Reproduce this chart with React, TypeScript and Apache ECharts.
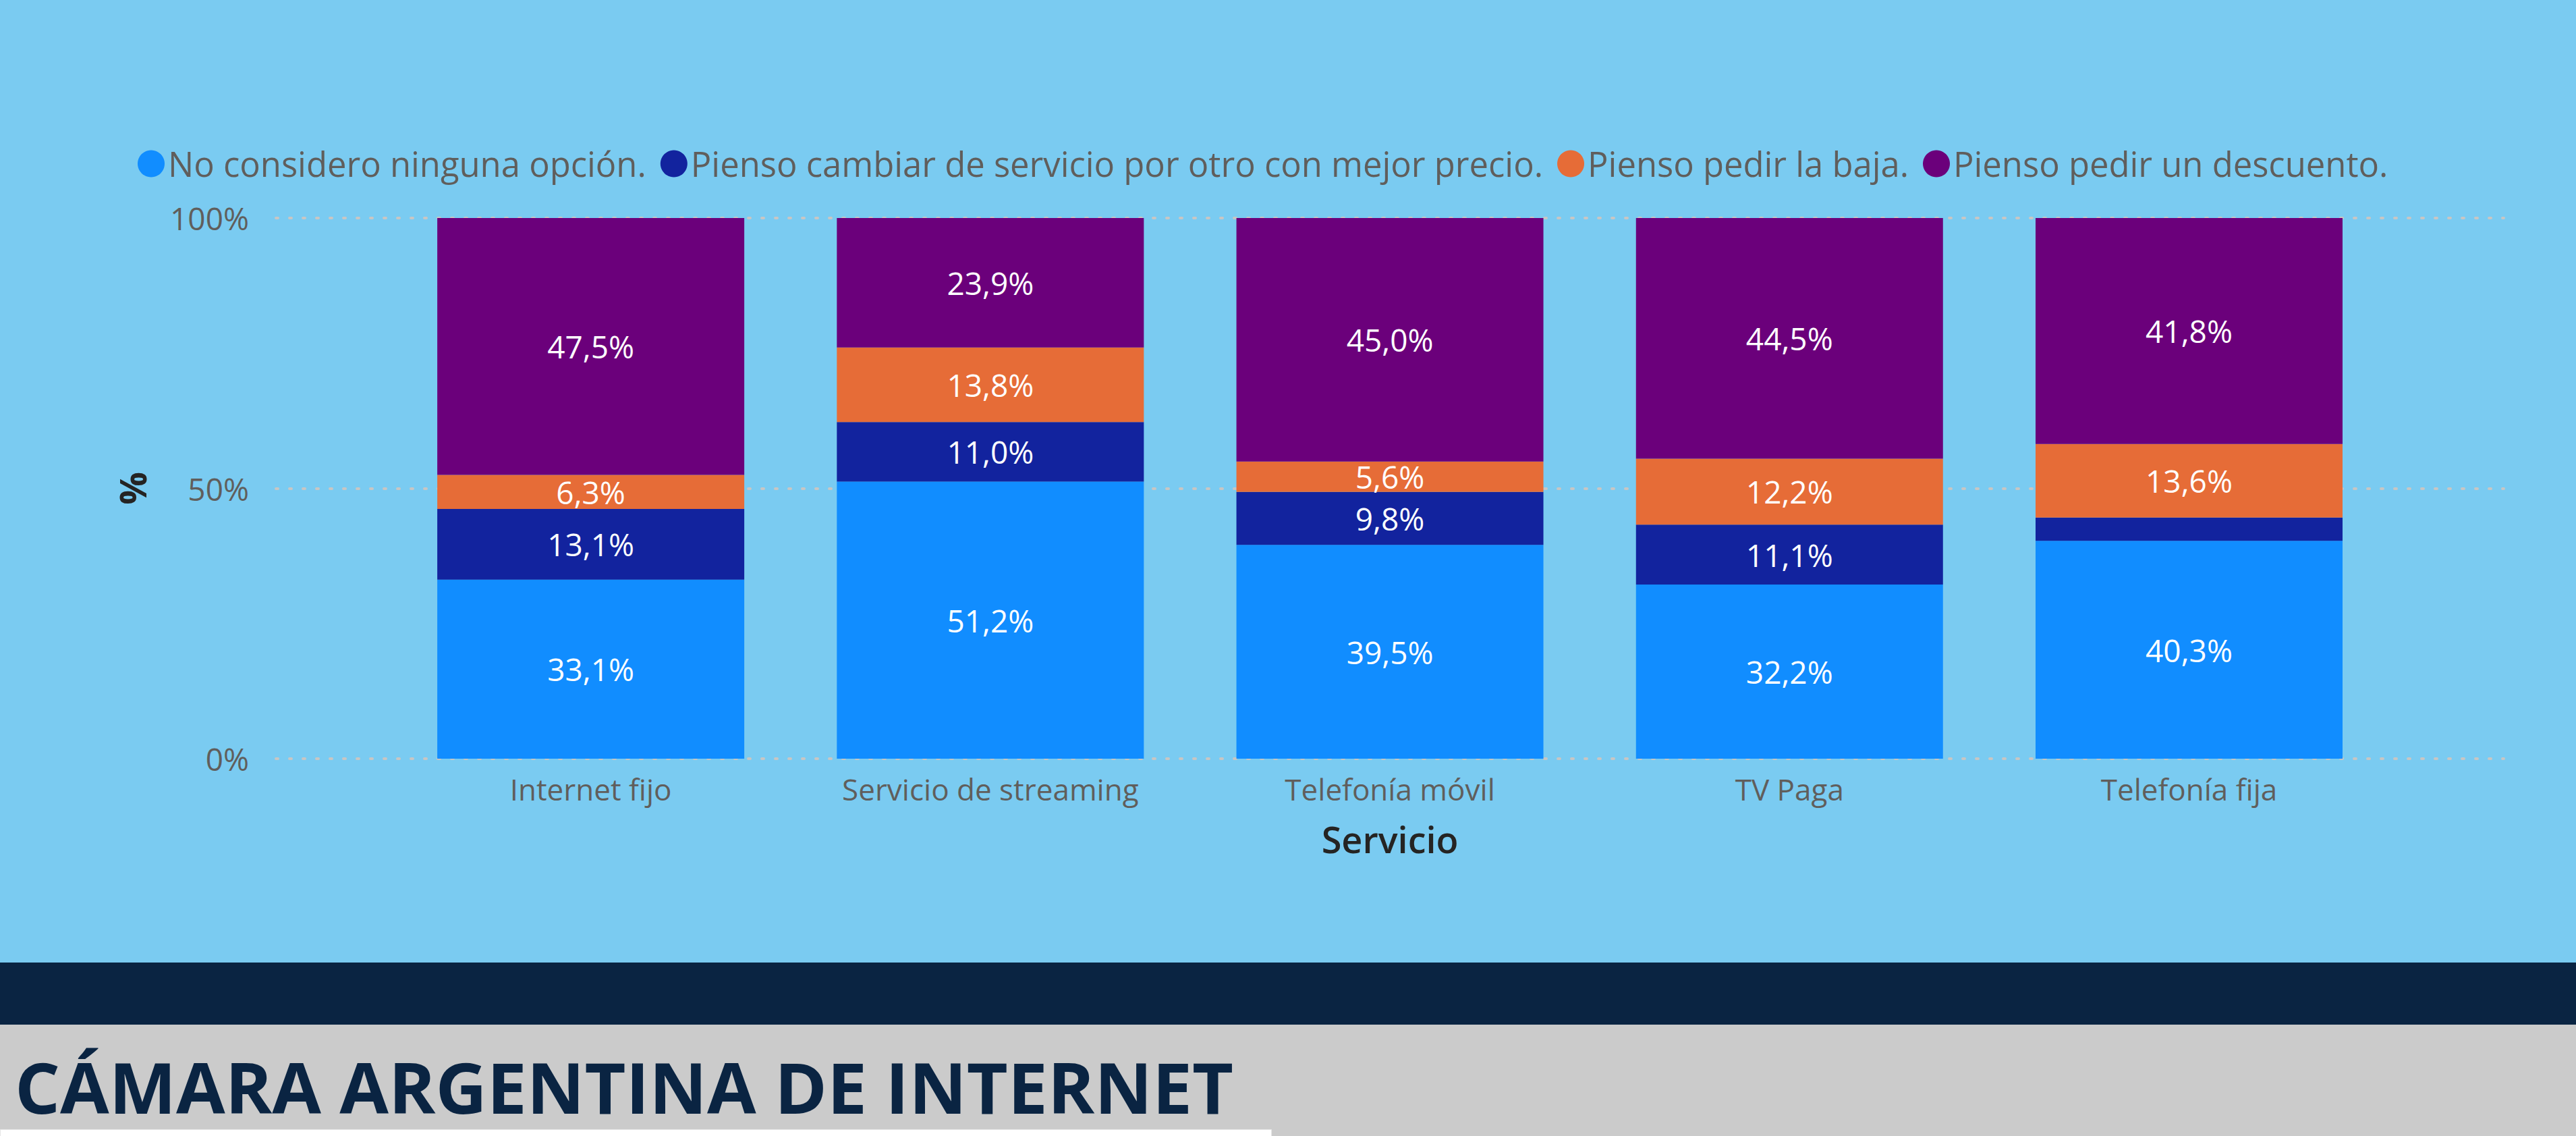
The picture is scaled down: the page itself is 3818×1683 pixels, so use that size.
import React, { useEffect, useRef } from "react";
import * as echarts from "echarts";

const categories = ["Internet fijo", "Servicio de streaming", "Telefonía móvil", "TV Paga", "Telefonía fija"];
const seriesNames = [
  "No considero ninguna opción.",
  "Pienso cambiar de servicio por otro con mejor precio.",
  "Pienso pedir la baja.",
  "Pienso pedir un descuento.",
];
const noConsidero = [33.1, 51.2, 39.5, 32.2, 40.3];
const cambiarServicio = [13.1, 11.0, 9.8, 11.1, 4.3];
const pedirBaja = [6.3, 13.8, 5.6, 12.2, 13.6];
const pedirDescuento = [47.5, 23.9, 45.0, 44.5, 41.8];
const yTicks = [0, 50, 100];
const seriesColors = ["#118DFF", "#12239E", "#E66C37", "#6B007B"];
const titleText = "CÁMARA ARGENTINA DE INTERNET";

const W = 3818;
const H = 1683;
const FONT = "'Open Sans', 'Noto Sans', sans-serif";

export default function App() {
  const ref = useRef<HTMLDivElement>(null);

  useEffect(() => {
    document.body.style.margin = "0";
    if (!ref.current) return;
    const chart = echarts.init(ref.current, null, { renderer: "svg", width: W, height: H });

    const raw = [noConsidero, cambiarServicio, pedirBaja, pedirDescuento];
    const totals = categories.map((_, i) => raw.reduce((s, arr) => s + arr[i], 0));

    // measure title to fit the reference width
    let titleScale = 1;
    try {
      const ctx = document.createElement("canvas").getContext("2d");
      if (ctx) {
        ctx.font = `bold 104px ${FONT}`;
        const w = ctx.measureText(titleText).width;
        if (w > 0) titleScale = 1806 / w;
      }
    } catch (e) {}

    const gridTop = 323;
    const gridBottom = H - 1124;

    const series = raw.map((arr, si) => ({
      name: seriesNames[si],
      type: "bar",
      stack: "total",
      xAxisIndex: 0,
      yAxisIndex: 0,
      barWidth: 455,
      z: 3,
      itemStyle: { color: seriesColors[si] },
      label: {
        show: true,
        position: "inside",
        color: "#FFFFFF",
        fontFamily: FONT,
        fontSize: 46,
        formatter: (p: any) => {
          const v = arr[p.dataIndex];
          return v < 5 ? "" : v.toFixed(1).replace(".", ",") + "%";
        },
      },
      data: arr.map((v, i) => (v / totals[i]) * 100),
    }));

    chart.setOption({
      animation: false,
      backgroundColor: "#7ACBF1",
      textStyle: { fontFamily: FONT },
      legend: {
        data: seriesNames,
        left: 199,
        top: 212,
        icon: "circle",
        itemWidth: 40,
        itemHeight: 40,
        itemGap: 21,
        selectedMode: false,
        textStyle: { color: "#605E5C", fontSize: 50.75, fontFamily: FONT, lineHeight: 40 },
      },
      grid: [
        { left: 579.5, right: W - 3540.6, top: gridTop, bottom: gridBottom, containLabel: false },
        { left: 409, right: W - 3711, top: gridTop, bottom: gridBottom, containLabel: false },
      ],
      xAxis: [
        {
          type: "category",
          gridIndex: 0,
          data: categories,
          axisLine: { show: false },
          axisTick: { show: false },
          axisLabel: { color: "#605E5C", fontSize: 44, fontFamily: FONT, margin: 23 },
          name: "Servicio",
          nameLocation: "middle",
          nameGap: 92,
          nameTextStyle: { color: "#252423", fontSize: 54, fontWeight: 600, fontFamily: FONT },
        },
        { type: "value", gridIndex: 1, show: false, min: 0, max: 1 },
      ],
      yAxis: [
        { type: "value", gridIndex: 0, min: 0, max: 100, show: false },
        {
          type: "value",
          gridIndex: 1,
          min: yTicks[0],
          max: yTicks[yTicks.length - 1],
          interval: yTicks[1] - yTicks[0],
          axisLine: { show: false },
          axisTick: { show: false },
          axisLabel: {
            color: "#605E5C",
            fontSize: 46,
            fontFamily: FONT,
            margin: 40,
            formatter: (v: number) => `${v}%`,
          },
          splitLine: {
            show: true,
            lineStyle: { color: "#C8C6C4", width: 4, type: [3, 17], cap: "round" },
          },
          name: "%",
          nameLocation: "middle",
          nameRotate: 90,
          nameGap: 186,
          nameTextStyle: { color: "#252423", fontSize: 54, fontWeight: "bold", fontFamily: FONT },
          z: 0,
        },
      ],
      graphic: [
        { type: "rect", left: 0, top: 1426, shape: { width: W, height: 92 }, style: { fill: "#0A2442" }, silent: true },
        { type: "rect", left: 0, top: 1518, shape: { width: W, height: H - 1518 }, style: { fill: "#CBCBCB" }, silent: true },
        { type: "rect", left: 0, top: 1673, shape: { width: 1884, height: 10 }, style: { fill: "#FFFFFF", stroke: "#E6E6E6", lineWidth: 1 }, silent: true },
        {
          type: "text",
          x: 22,
          y: 1610,
          scaleX: titleScale,
          silent: true,
          style: {
            text: titleText,
            fill: "#0A2442",
            font: `bold 104px ${FONT}`,
            align: "left",
            verticalAlign: "middle",
          },
        },
      ],
      series,
    });

    return () => chart.dispose();
  }, []);

  return <div ref={ref} style={{ width: W, height: H }} />;
}
